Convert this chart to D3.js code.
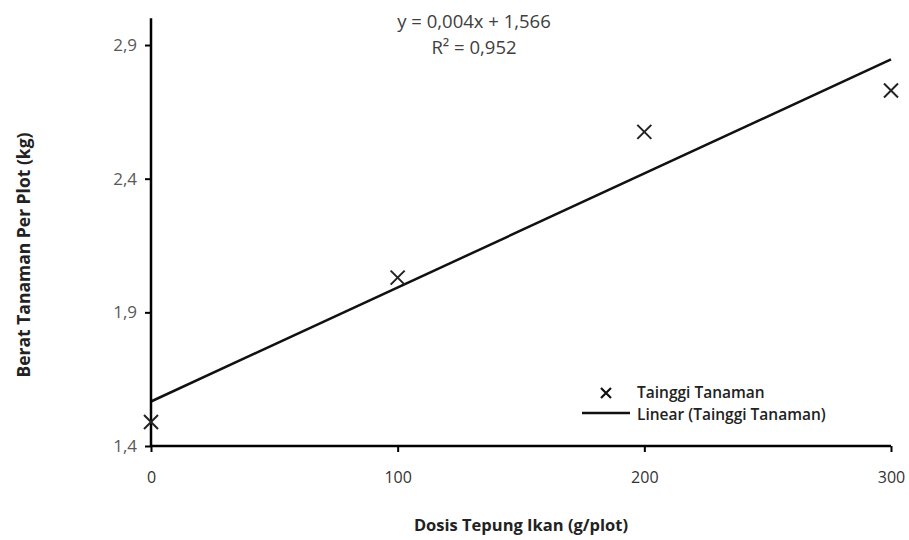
<!DOCTYPE html>
<html>
<head>
<meta charset="utf-8">
<script src="https://cdn.jsdelivr.net/npm/d3@7"></script>
<style>
  html, body { margin: 0; padding: 0; background: #fff; }
  svg { display: block; font-family: "Open Sans", Lato, sans-serif; }
</style>
</head>
<body>
<svg id="chart" width="909" height="540"></svg>
<script>
// ---- data ----
const doses = [0, 100, 200, 300];
const weights = [1.49, 2.03, 2.575, 2.73];
const xTicks = [0, 100, 200, 300];
const yTicks = [1.4, 1.9, 2.4, 2.9];
const yTickLabels = ["1,4", "1,9", "2,4", "2,9"];
const seriesName = "Tainggi Tanaman";
const trendName = "Linear (Tainggi Tanaman)";
const equationText = "y = 0,004x + 1,566";
const r2Text = "R\u00B2 = 0,952";
const xTitle = "Dosis Tepung Ikan (g/plot)";
const yTitle = "Berat Tanaman Per Plot (kg)";

// ---- layout ----
const svg = d3.select("#chart");
const x = d3.scaleLinear().domain([0, 300]).range([151, 891]);
const y = d3.scaleLinear().domain([1.4, 3.0]).range([446, 18.3]);
const axisColor = "#000";
const textColor = "#595959";

// least-squares trend line
const mx = d3.mean(doses), my = d3.mean(weights);
const sxy = d3.sum(doses, (d, i) => (d - mx) * (weights[i] - my));
const sxx = d3.sum(doses, d => (d - mx) ** 2);
const slope = sxy / sxx, intercept = my - slope * mx;

// trend line
svg.append("line")
  .attr("x1", x(0)).attr("y1", y(intercept))
  .attr("x2", x(300)).attr("y2", y(intercept + slope * 300))
  .attr("stroke", "#111").attr("stroke-width", 2.5);

// y axis
const yAxis = d3.axisLeft(y).tickValues(yTicks)
  .tickFormat((d, i) => yTickLabels[i]).tickSize(6).tickPadding(8);
const gy = svg.append("g").attr("transform", `translate(${x(0)},0)`).call(yAxis);
gy.select(".domain").attr("d", `M0,${y(3.0)}V${y(1.4)}`).attr("stroke", axisColor).attr("stroke-width", 2.5);
gy.selectAll(".tick line").attr("stroke", axisColor).attr("stroke-width", 2);
gy.selectAll(".tick text").attr("fill", textColor).style("font-size", "17px")
  .style("font-family", "'Open Sans', sans-serif");

// x axis
const xAxis = d3.axisBottom(x).tickValues(xTicks).tickSize(6).tickPadding(20);
const gx = svg.append("g").attr("transform", `translate(0,${y(1.4)})`).call(xAxis);
gx.select(".domain").attr("d", `M${x(0)},0H${x(300)}`).attr("stroke", axisColor).attr("stroke-width", 2.5);
gx.selectAll(".tick line").attr("stroke", axisColor).attr("stroke-width", 2);
gx.selectAll(".tick text").attr("fill", "#333").style("font-size", "16px")
  .style("font-family", "'Open Sans', sans-serif");

// markers (x)
const s = 7;
const marks = svg.append("g");
doses.forEach((d, i) => {
  const cx = x(d), cy = y(weights[i]);
  marks.append("path")
    .attr("d", `M${cx - s},${cy - s}L${cx + s},${cy + s}M${cx - s},${cy + s}L${cx + s},${cy - s}`)
    .attr("stroke", "#222").attr("stroke-width", 2).attr("fill", "none");
});

// equation
svg.append("text").attr("x", 474).attr("y", 28).attr("text-anchor", "middle")
  .attr("fill", "#404040").style("font-size", "18.5px").text(equationText);
svg.append("text").attr("x", 474).attr("y", 54).attr("text-anchor", "middle")
  .attr("fill", "#404040").style("font-size", "18.5px").text(r2Text);

// legend
const lg = svg.append("g");
const lx = 606, ly = 393;
lg.append("path")
  .attr("d", `M${lx - 5},${ly - 5}L${lx + 5},${ly + 5}M${lx - 5},${ly + 5}L${lx + 5},${ly - 5}`)
  .attr("stroke", "#111").attr("stroke-width", 2.2);
lg.append("text").attr("x", 637).attr("y", 398).attr("fill", "#222")
  .style("font-size", "15.5px").style("font-weight", "600").text(seriesName);
lg.append("line").attr("x1", 582).attr("x2", 630).attr("y1", 413).attr("y2", 413)
  .attr("stroke", "#111").attr("stroke-width", 2.5);
lg.append("text").attr("x", 637).attr("y", 420).attr("fill", "#222")
  .style("font-size", "15.5px").style("font-weight", "600").text(trendName);

// axis titles
svg.append("text").attr("x", 521).attr("y", 531).attr("text-anchor", "middle")
  .attr("fill", "#222").style("font-size", "16.5px").style("font-weight", "bold").text(xTitle);
svg.append("text").attr("transform", "translate(30,255) rotate(-90)").attr("text-anchor", "middle")
  .attr("fill", "#222").style("font-size", "17.5px").style("font-weight", "bold").text(yTitle);
</script>
</body>
</html>
